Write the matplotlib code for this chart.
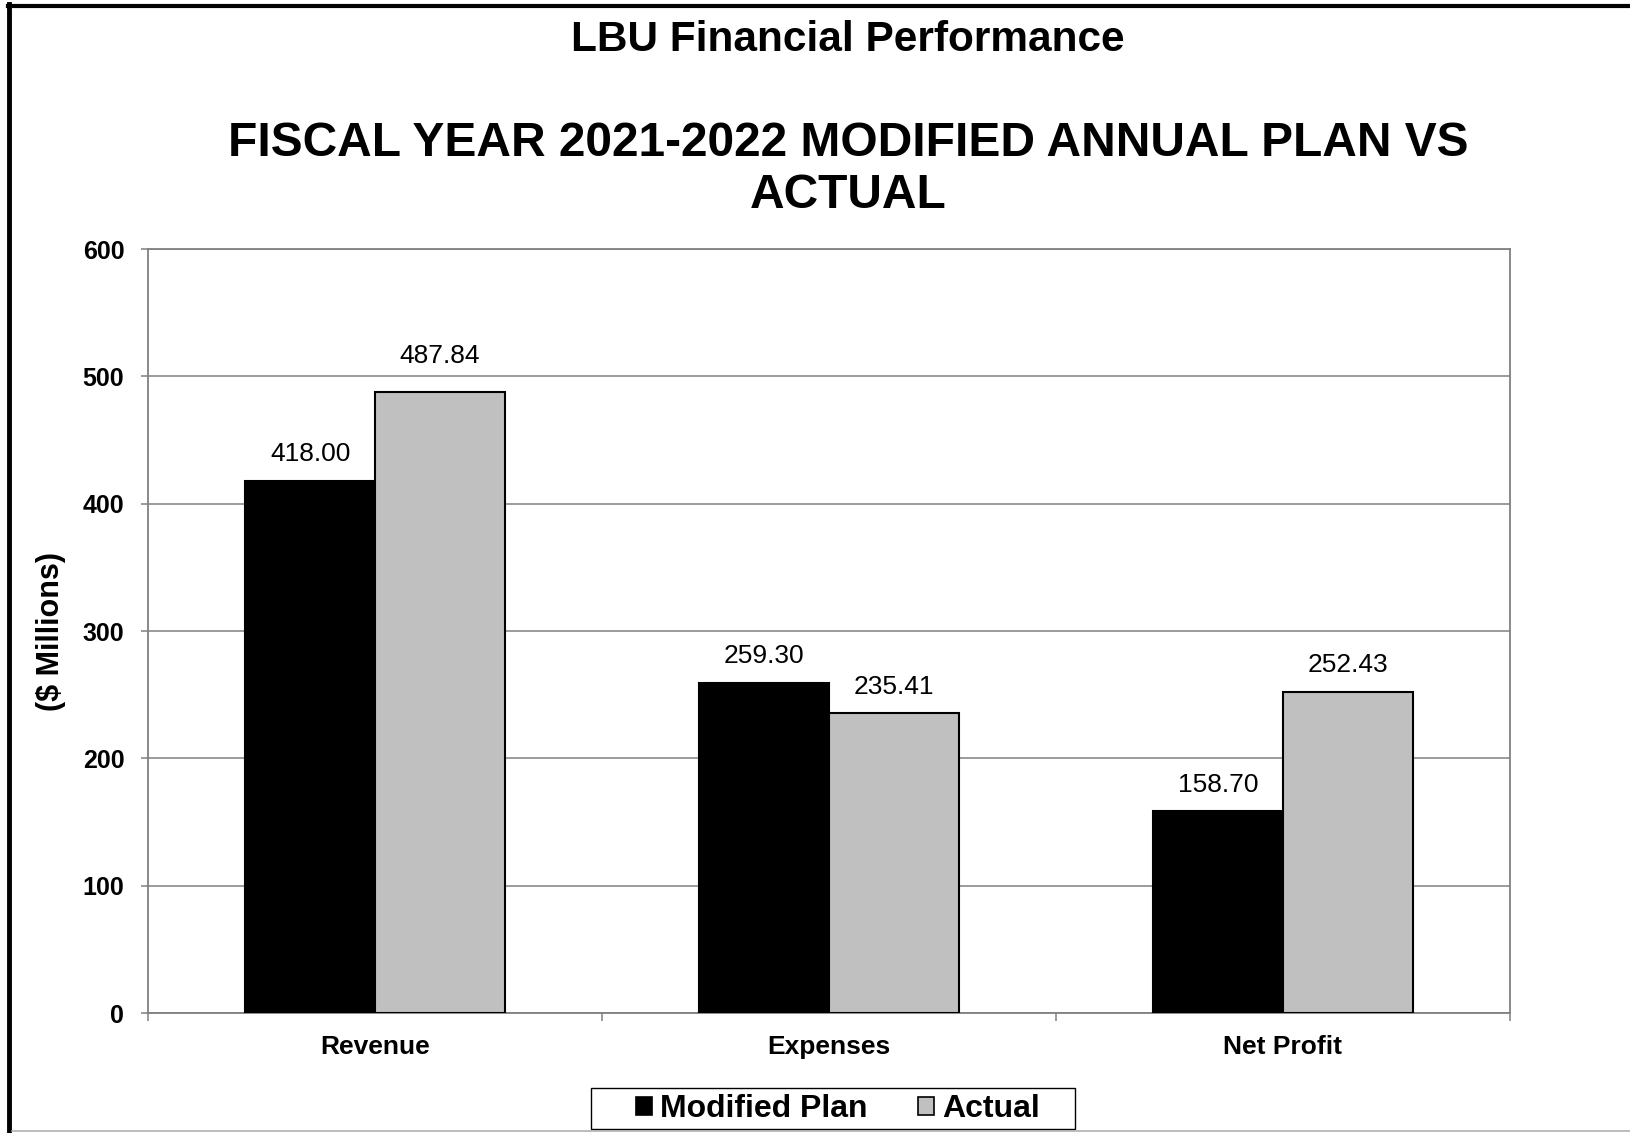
import matplotlib.pyplot as plt
from matplotlib.patches import Patch, Rectangle
from matplotlib.lines import Line2D
import numpy as np

categories = ['Revenue', 'Expenses', 'Net Profit']
plan = [418.00, 259.30, 158.70]
actual = [487.84, 235.41, 252.43]
series_names = ['Modified Plan', 'Actual']
yticks = [0, 100, 200, 300, 400, 500, 600]

plt.rcParams['font.family'] = ['Liberation Sans', 'DejaVu Sans']

fig = plt.figure(figsize=(16.31, 11.33), dpi=100)
ax = fig.add_axes([0.0907, 0.1059, 0.8351, 0.6743])

x = np.arange(len(categories))
w = 0.2857
b1 = ax.bar(x - w / 2, plan, w, color='black', edgecolor='black', linewidth=1.5, zorder=3)
b2 = ax.bar(x + w / 2, actual, w, color='#c0c0c0', edgecolor='black', linewidth=1.5, zorder=3)

# label offsets in points (the first actual label sits a bit higher in the original)
offs = [[19, 19, 19], [26, 19, 19]]
for bars, vals, off in ((b1, plan, offs[0]), (b2, actual, offs[1])):
    for r, v, o in zip(bars, vals, off):
        ax.annotate('%.2f' % v, (r.get_x() + r.get_width() / 2, v),
                    xytext=(0, o), textcoords='offset points',
                    ha='center', va='center', fontsize=19)

ax.set_xlim(-0.5, 2.5)
ax.set_ylim(0, 600)
ax.set_yticks(yticks)
ax.set_yticklabels([str(t) for t in yticks], fontsize=18, fontweight='bold')
ax.set_xticks(x)
ax.set_xticklabels(categories, fontsize=19, fontweight='bold')
ax.tick_params(axis='x', length=0, pad=16)
ax.set_xticks([-0.5, 0.5, 1.5, 2.5], minor=True)
ax.tick_params(axis='x', which='minor', length=6, width=1.1, color='#808080', direction='out')
ax.tick_params(axis='y', length=5, width=1.1, color='#808080', pad=12)
ax.grid(axis='y', color='#808080', linewidth=1.1, zorder=0)
ax.set_axisbelow(True)
for s in ax.spines.values():
    s.set_color('#808080')
    s.set_linewidth(1.3)
ax.set_ylabel('($ Millions)', fontsize=22, fontweight='bold', labelpad=12)

fig.text(0.52, 1 - 40 / 1133, 'LBU Financial Performance', ha='center', va='center',
         fontsize=30.5, fontweight='bold')
fig.text(0.52, 1 - 144 / 1133, 'FISCAL YEAR 2021-2022 MODIFIED ANNUAL PLAN VS',
         ha='center', va='center', fontsize=34.5, fontweight='bold')
fig.text(0.52, 1 - 196 / 1133, 'ACTUAL', ha='center', va='center',
         fontsize=34.5, fontweight='bold')

handles = [Patch(facecolor='black', edgecolor='black', linewidth=1.2),
           Patch(facecolor='#c0c0c0', edgecolor='black', linewidth=1.2)]
leg = fig.legend(handles, series_names, loc='center', bbox_to_anchor=(838 / 1631, 1 - 1109 / 1133),
                 ncol=2, frameon=False, handlelength=0.5, handleheight=0.5,
                 handletextpad=0.25, columnspacing=1.6, borderpad=0.15,
                 prop={'size': 23, 'weight': 'bold'})
fig.add_artist(Rectangle((591 / 1631, 1 - 1129 / 1133), 484 / 1631, 41 / 1133,
                         transform=fig.transFigure, fill=False, edgecolor='black', lw=1.0))

# outer frame of the original picture (left and top black, bottom light gray)
fig.add_artist(Line2D([9.5 / 1631, 9.5 / 1631], [0, 1 - 4 / 1133], color='black', lw=3.5))
fig.add_artist(Line2D([8 / 1631, 1], [1 - 5.5 / 1133, 1 - 5.5 / 1133], color='black', lw=3.0))
fig.add_artist(Line2D([12 / 1631, 1], [2.5 / 1133, 2.5 / 1133], color='#b0b0b0', lw=1.2))

fig.savefig('out.png', dpi=100)
